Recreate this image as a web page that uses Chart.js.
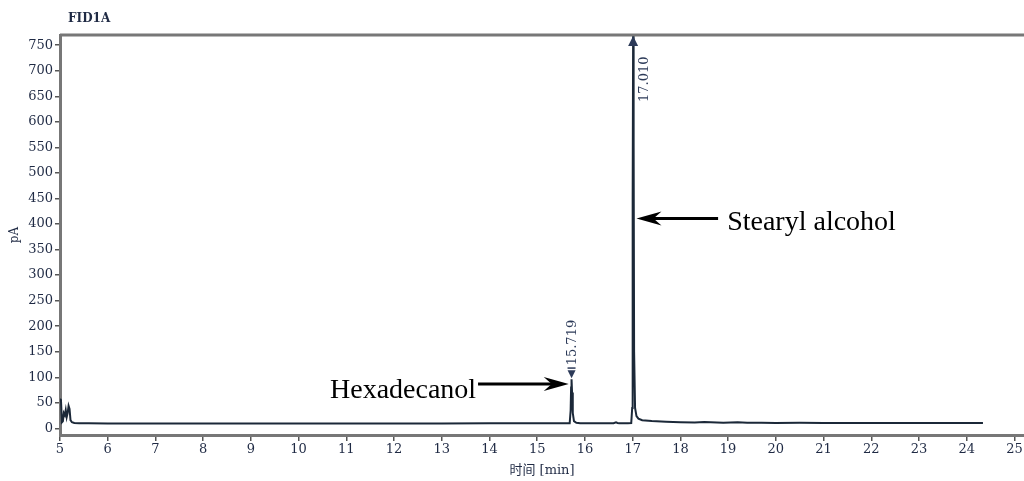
<!DOCTYPE html>
<html lang="zh">
<head>
    <meta charset="UTF-8">
    <title>FID1A</title>
    <script src="https://cdn.jsdelivr.net/npm/chart.js"></script>
    <style>
        body { margin: 0; background: #fff; }
        .wrap { width: 1024px; height: 481px; }
    </style>
</head>
<body>
    <div class="wrap"><canvas id="fid"></canvas></div>

    <script>
        // retention time (min) and detector signal (pA)
        const times = [5.00, 5.02, 5.04, 5.06, 5.08, 5.10, 5.12, 5.14, 5.16, 5.18,
                       5.20, 5.22, 5.25, 5.30, 5.40, 5.60, 6.0, 7.0, 8.0, 9.0,
                       10.0, 11.0, 12.0, 13.0, 14.0, 15.0, 15.5, 15.68, 15.70, 15.71,
                       15.719, 15.73, 15.745, 15.77, 15.82, 15.9, 16.2, 16.6, 16.65, 16.68,
                       16.72, 16.9, 16.97, 16.99, 17.0, 17.01, 17.02, 17.03, 17.05, 17.08,
                       17.12, 17.2, 17.4, 17.7, 18.0, 18.3, 18.5, 18.9, 19.2, 19.4,
                       19.7, 20.0, 20.5, 21.0, 21.5, 22.0, 23.0, 24.0, 24.34];
        const signal = [57, 56, 12, 14, 30, 26, 36, 22, 30, 44,
                        38, 16, 12, 10.5, 10, 9.8, 9.6, 9.5, 9.5, 9.5,
                        9.6, 9.6, 9.7, 9.7, 9.8, 9.8, 9.8, 10, 35, 80,
                        96, 70, 30, 14, 11, 10.2, 10, 10.2, 12, 10.5,
                        10.2, 10.2, 10.5, 40, 450, 790, 560, 150, 40, 24,
                        19, 16, 14.5, 13, 12, 11.5, 12.5, 11, 11.8, 11.2,
                        10.8, 10.5, 10.8, 10.5, 10.6, 10.5, 10.5, 10.5, 10.5];

        const xTicks = [5, 6, 7, 8, 9, 10, 11, 12, 13, 14, 15, 16, 17, 18, 19, 20, 21, 22, 23, 24, 25];
        const yTicks = [0, 50, 100, 150, 200, 250, 300, 350, 400, 450, 500, 550, 600, 650, 700, 750];

        const peakTimes = [15.719, 17.010];
        const peakLabels = ['15.719', '17.010'];
        const compounds = ['Hexadecanol', 'Stearyl alcohol'];

        const inkColor = '#1f2a44';
        const tickFont = { family: 'DejaVu Serif', size: 13 };

        const notes = {
            id: 'notes',
            afterDatasetsDraw(chart) {
                const { ctx, chartArea: a, scales: { x, y } } = chart;
                ctx.save();

                // top frame line
                ctx.strokeStyle = '#777';
                ctx.lineWidth = 3;
                ctx.beginPath();
                ctx.moveTo(a.left, a.top);
                ctx.lineTo(a.right, a.top);
                ctx.stroke();

                // signal name
                ctx.fillStyle = inkColor;
                ctx.font = 'bold 12px "DejaVu Serif"';
                ctx.textBaseline = 'middle';
                ctx.textAlign = 'left';
                ctx.fillText('FID1A', a.left + 8, 19);

                // peak markers and retention time labels
                ctx.font = '13px "DejaVu Serif"';
                ctx.fillStyle = '#2c3a58';
                // 15.719: small down marker above the peak
                let px = x.getPixelForValue(peakTimes[0]);
                let py = y.getPixelForValue(96);
                ctx.beginPath();
                ctx.moveTo(px - 4, py - 9);
                ctx.lineTo(px + 4, py - 9);
                ctx.lineTo(px, py - 1);
                ctx.closePath();
                ctx.fill();
                ctx.fillRect(px - 4, py - 12, 8, 1.5);
                ctx.save();
                ctx.translate(px + 1, py - 14);
                ctx.rotate(-Math.PI / 2);
                ctx.textAlign = 'left';
                ctx.fillText(peakLabels[0], 0, 0);
                ctx.restore();

                // 17.010: up marker at the top of the clipped peak
                px = x.getPixelForValue(peakTimes[1]);
                ctx.beginPath();
                ctx.moveTo(px, a.top + 1);
                ctx.lineTo(px - 5, a.top + 11);
                ctx.lineTo(px + 5, a.top + 11);
                ctx.closePath();
                ctx.fill();
                ctx.save();
                ctx.translate(px + 11, a.top + 67);
                ctx.rotate(-Math.PI / 2);
                ctx.textAlign = 'left';
                ctx.fillText(peakLabels[1], 0, 0);
                ctx.restore();

                // compound names with arrows
                function arrow(x0, x1, yv) {
                    const ax = x.getPixelForValue(x0);
                    const bx = x.getPixelForValue(x1);
                    const ay = y.getPixelForValue(yv);
                    const dir = Math.sign(bx - ax);
                    ctx.strokeStyle = '#000';
                    ctx.fillStyle = '#000';
                    ctx.lineWidth = 3;
                    ctx.beginPath();
                    ctx.moveTo(ax, ay);
                    ctx.lineTo(bx - dir * 14, ay);
                    ctx.stroke();
                    ctx.beginPath();
                    ctx.moveTo(bx, ay);
                    ctx.lineTo(bx - dir * 25, ay - 7);
                    ctx.lineTo(bx - dir * 17, ay);
                    ctx.lineTo(bx - dir * 25, ay + 7);
                    ctx.closePath();
                    ctx.fill();
                }
                arrow(13.76, 15.66, 87);
                arrow(18.79, 17.08, 411);

                ctx.fillStyle = '#000';
                ctx.font = '28px "Liberation Serif"';
                ctx.textBaseline = 'alphabetic';
                ctx.textAlign = 'right';
                ctx.fillText(compounds[0], x.getPixelForValue(13.72), y.getPixelForValue(59));
                ctx.textAlign = 'left';
                ctx.fillText(compounds[1], x.getPixelForValue(18.98), y.getPixelForValue(389));

                ctx.restore();
            }
        };

        const ctx = document.getElementById('fid').getContext('2d');
        new Chart(ctx, {
            type: 'line',
            data: {
                datasets: [{
                    label: 'FID1A',
                    data: times.map((t, i) => ({ x: t, y: signal[i] })),
                    borderColor: '#1b2838',
                    borderWidth: 2,
                    pointRadius: 0,
                    tension: 0,
                    fill: false
                }]
            },
            options: {
                responsive: true,
                maintainAspectRatio: false,
                animation: false,
                layout: { padding: { top: 35, left: 0, right: 0, bottom: 0 } },
                plugins: {
                    legend: { display: false },
                    tooltip: { enabled: false }
                },
                scales: {
                    x: {
                        type: 'linear',
                        min: 5,
                        max: 25.2,
                        afterBuildTicks: s => { s.ticks = xTicks.map(v => ({ value: v })); },
                        afterFit: s => { s.height = 46; },
                        grid: { drawOnChartArea: false, tickLength: 6, color: '#555', lineWidth: 1.5 },
                        border: { color: '#777', width: 3 },
                        ticks: { color: inkColor, font: tickFont, padding: 1, maxRotation: 0, autoSkip: false },
                        title: {
                            display: true,
                            text: '时间 [min]',
                            color: inkColor,
                            font: { family: '"DejaVu Serif", "Noto Sans CJK SC"', size: 13 },
                            padding: { top: 0, bottom: 3 }
                        }
                    },
                    y: {
                        min: -13,
                        max: 770,
                        afterBuildTicks: s => { s.ticks = yTicks.map(v => ({ value: v })); },
                        afterFit: s => { s.width = 60; },
                        grid: { drawOnChartArea: false, tickLength: 5, color: '#555', lineWidth: 1.5 },
                        border: { color: '#777', width: 3 },
                        ticks: { color: inkColor, font: tickFont, padding: 2 },
                        title: {
                            display: true,
                            text: 'pA',
                            color: inkColor,
                            font: { family: 'DejaVu Serif', size: 12 },
                            padding: { top: 8, bottom: 0 }
                        }
                    }
                }
            },
            plugins: [notes]
        });
    </script>
</body>
</html>
